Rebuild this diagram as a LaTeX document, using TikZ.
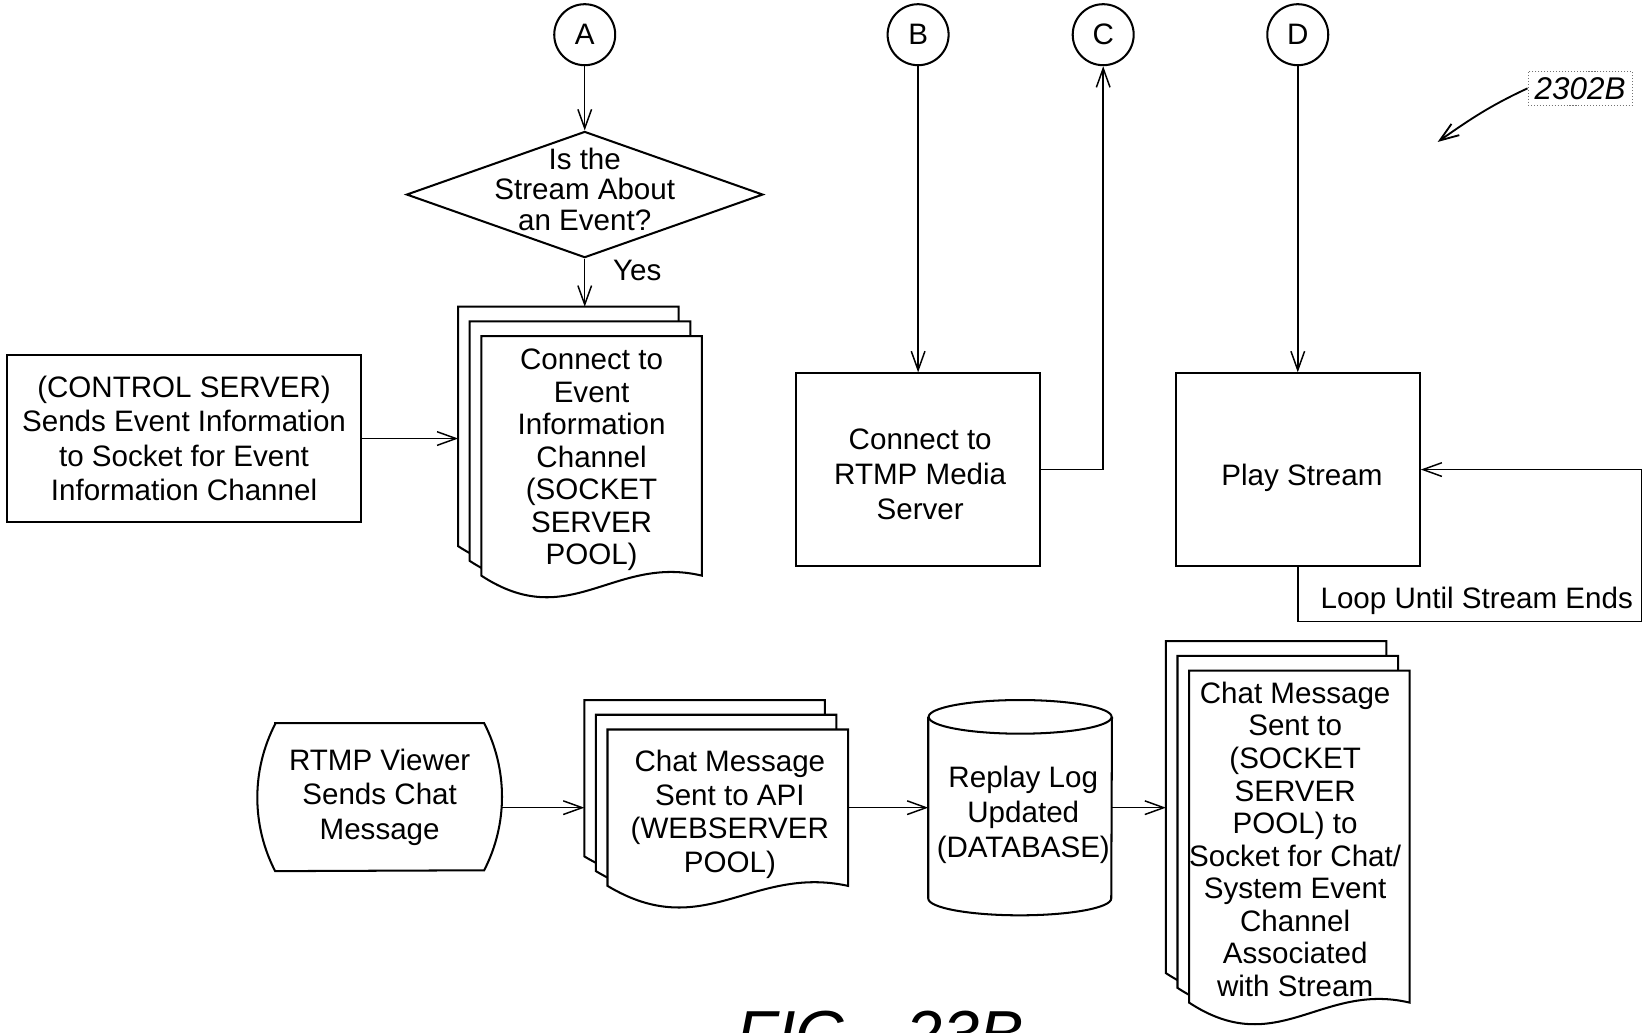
\documentclass[tikz,border=0pt]{standalone}
\usepackage{fontspec}
\setmainfont{Liberation Sans}
\usetikzlibrary{arrows.meta,positioning,shapes.geometric,calc,backgrounds}
\tikzset{
  blk/.style={rectangle, draw=black, line width=1.1pt, align=center, inner sep=0pt},
  conn/.style={circle, draw=black, line width=1.1pt, minimum size=1.16cm, inner sep=0pt},
  dec/.style={diamond, draw=black, line width=1.1pt, minimum width=6.78cm,
              minimum height=2.40cm, inner sep=0pt},
  txt/.style={align=center, inner sep=0pt},
  sheetnode/.style={rectangle, align=center, inner sep=0pt},
  sheetline/.style={draw=black, line width=1.1pt, fill=white},
  outl/.style={draw=black, line width=1.1pt},
  ar/.style={-{Straight Barb[length=3.6mm,width=2.6mm]}, line width=0.8pt},
  lbl/.style={inner sep=0pt},
}
% one page of a stacked document: straight top and sides, wavy bottom
\newcommand{\drawsheet}[1]{%
  \draw[sheetline] (#1.north west) -- (#1.north east) -- (#1.south east)
    .. controls ($(#1.south west)!0.6!(#1.south east)+(0,0.4)$)
            and ($(#1.south west)!0.4!(#1.south east)+(0,-1.1)$) .. (#1.south west) -- cycle;}

\begin{document}
\begin{tikzpicture}[font=\fontsize{16}{17.6}\selectfont]
\useasboundingbox (0,0) rectangle (31.36,-19.64);

% ===================== 1. off-page connectors ============================
\node[conn] (A) at (11.12,-0.66) {A};
\node[conn] (B) at (17.46,-0.66) {B};
\node[conn] (C) at (20.98,-0.66) {C};
\node[conn] (D) at (24.68,-0.66) {D};

% ===================== 2. event branch ===================================
\node[dec] (dec) at (11.12,-3.70) {};
\node[txt, font=\fontsize{16}{16.6}\selectfont] (dect) at (11.12,-3.60)
  {Is the\\Stream About\\an Event?};
\draw[ar] (A) -- (dec.north);
\node[lbl] (yes) at (12.12,-5.14) {Yes};

\node[sheetnode, minimum width=4.18cm, minimum height=4.54cm] (d1c) at (10.81,-8.11) {};
\node[sheetnode, minimum width=4.18cm, minimum height=4.54cm] (d1b) at (11.03,-8.39) {};
\node[sheetnode, minimum width=4.18cm, minimum height=4.54cm] (d1) at (11.25,-8.67) {};
\node[txt] (d1t) at (11.25,-8.75)
  {Connect to\\Event\\Information\\Channel\\(SOCKET\\SERVER\\POOL)};
\draw[ar] (dec.south) -- (dec.south |- d1c.north);

\node[blk, minimum width=6.72cm, minimum height=3.16cm, font=\fontsize{16}{18.6}\selectfont]
  (ctrl) at (3.50,-8.34)
  {(CONTROL SERVER)\\Sends Event Information\\to Socket for Event\\Information Channel};
\draw[ar] (ctrl.east) -- (ctrl.east -| d1c.west);

% ===================== 3. media server and playback ======================
\node[blk, minimum width=4.64cm, minimum height=3.66cm] (rtmp) at (17.46,-8.93) {};
\node[txt, font=\fontsize{16}{19}\selectfont] (rtmpt) at (17.50,-9.02)
  {Connect to\\RTMP Media\\Server};
\node[blk, minimum width=4.64cm, minimum height=3.66cm] (play) at (24.68,-8.93) {};
\node[txt] (playt) at (24.76,-9.08) {Play Stream};
\draw[ar] (B) -- (rtmp);
\draw[ar] (rtmp.east) -| (C.south);
\draw[ar] (D) -- (play);
\coordinate (loopc) at (31.22,-11.82);
\draw[ar] (play.south) |- (loopc) |- (play.east);
\node[lbl, anchor=east] (loop) at (31.06,-11.42) {Loop Until Stream Ends};

% ===================== 4. chat message path ==============================
\node[txt, minimum width=4.64cm, minimum height=2.80cm, font=\fontsize{16}{18.6}\selectfont]
  (viewer) at (7.22,-15.16) {RTMP Viewer\\Sends Chat\\Message};
\draw[outl] ($(viewer.north west)+(0.34,0)$) -- ($(viewer.north east)+(-0.34,0)$)
  arc[start angle=27.3, end angle=-27.3, radius=3.05]
  -- ($(viewer.south west)+(0.34,0)$)
  arc[start angle=207.3, end angle=152.7, radius=3.05] -- cycle;

\node[sheetnode, minimum width=4.56cm, minimum height=2.96cm] (d2c) at (13.40,-14.80) {};
\node[sheetnode, minimum width=4.56cm, minimum height=2.96cm] (d2b) at (13.62,-15.08) {};
\node[sheetnode, minimum width=4.56cm, minimum height=2.96cm] (d2) at (13.84,-15.36) {};
\node[txt, font=\fontsize{16}{18.2}\selectfont] (d2t) at (13.88,-15.49)
  {Chat Message\\Sent to API\\(WEBSERVER\\POOL)};
\draw[ar] ([yshift=-2mm]viewer.east) -- ([yshift=-2mm]viewer.east -| d2c.west);

% ---- database cylinder ----------------------------------------------------
\node[txt, minimum width=3.48cm, minimum height=3.44cm] (db) at (19.40,-15.36) {};
\node[txt, font=\fontsize{16}{18.8}\selectfont] (dbt) at (19.46,-15.50)
  {Replay Log\\Updated\\(DATABASE)};
\draw[outl] (db.north west) -- (db.south west)
  arc[start angle=180, end angle=360, x radius=1.74, y radius=0.32] -- (db.north east);
\draw[outl] (db.north) ellipse[x radius=1.74, y radius=0.32];
\draw[ar] (d2.east) -- (db.west);

\node[sheetnode, minimum width=4.18cm, minimum height=6.30cm] (d3c) at (24.27,-15.35) {};
\node[sheetnode, minimum width=4.18cm, minimum height=6.30cm] (d3b) at (24.49,-15.63) {};
\node[sheetnode, minimum width=4.18cm, minimum height=6.30cm] (d3) at (24.71,-15.91) {};
\node[txt] (d3t) at (24.63,-15.96)
  {Chat Message\\Sent to\\(SOCKET\\SERVER\\POOL) to\\Socket for Chat/\\System Event\\Channel\\Associated\\with Stream};
\draw[ar] (db.east) -- (db.east -| d3c.west);

% ---- stacked pages go behind their text ------------------------------------
\begin{scope}[on background layer]
\foreach \s in {d1c,d1b,d1,d2c,d2b,d2,d3c,d3b,d3} {\drawsheet{\s}}
\end{scope}

% ===================== 5. reference numeral and caption ==================
\node[draw=black!55, densely dotted, line width=0.6pt, inner sep=2pt, minimum width=1.98cm,
      minimum height=0.64cm, font=\fontsize{17}{17}\selectfont\itshape] (ref) at (30.05,-1.68) {2302B};
\coordinate (refend) at (27.34,-2.70);
\draw[ar, line width=1pt] (ref.west) to[out=205, in=35] (refend);

\node[anchor=base west, inner sep=0pt, font=\fontsize{36}{36}\selectfont\itshape] (fig)
  at (14.00,-20.12) {FIG.\hspace{0.75cm}23B};

\end{tikzpicture}
\end{document}
